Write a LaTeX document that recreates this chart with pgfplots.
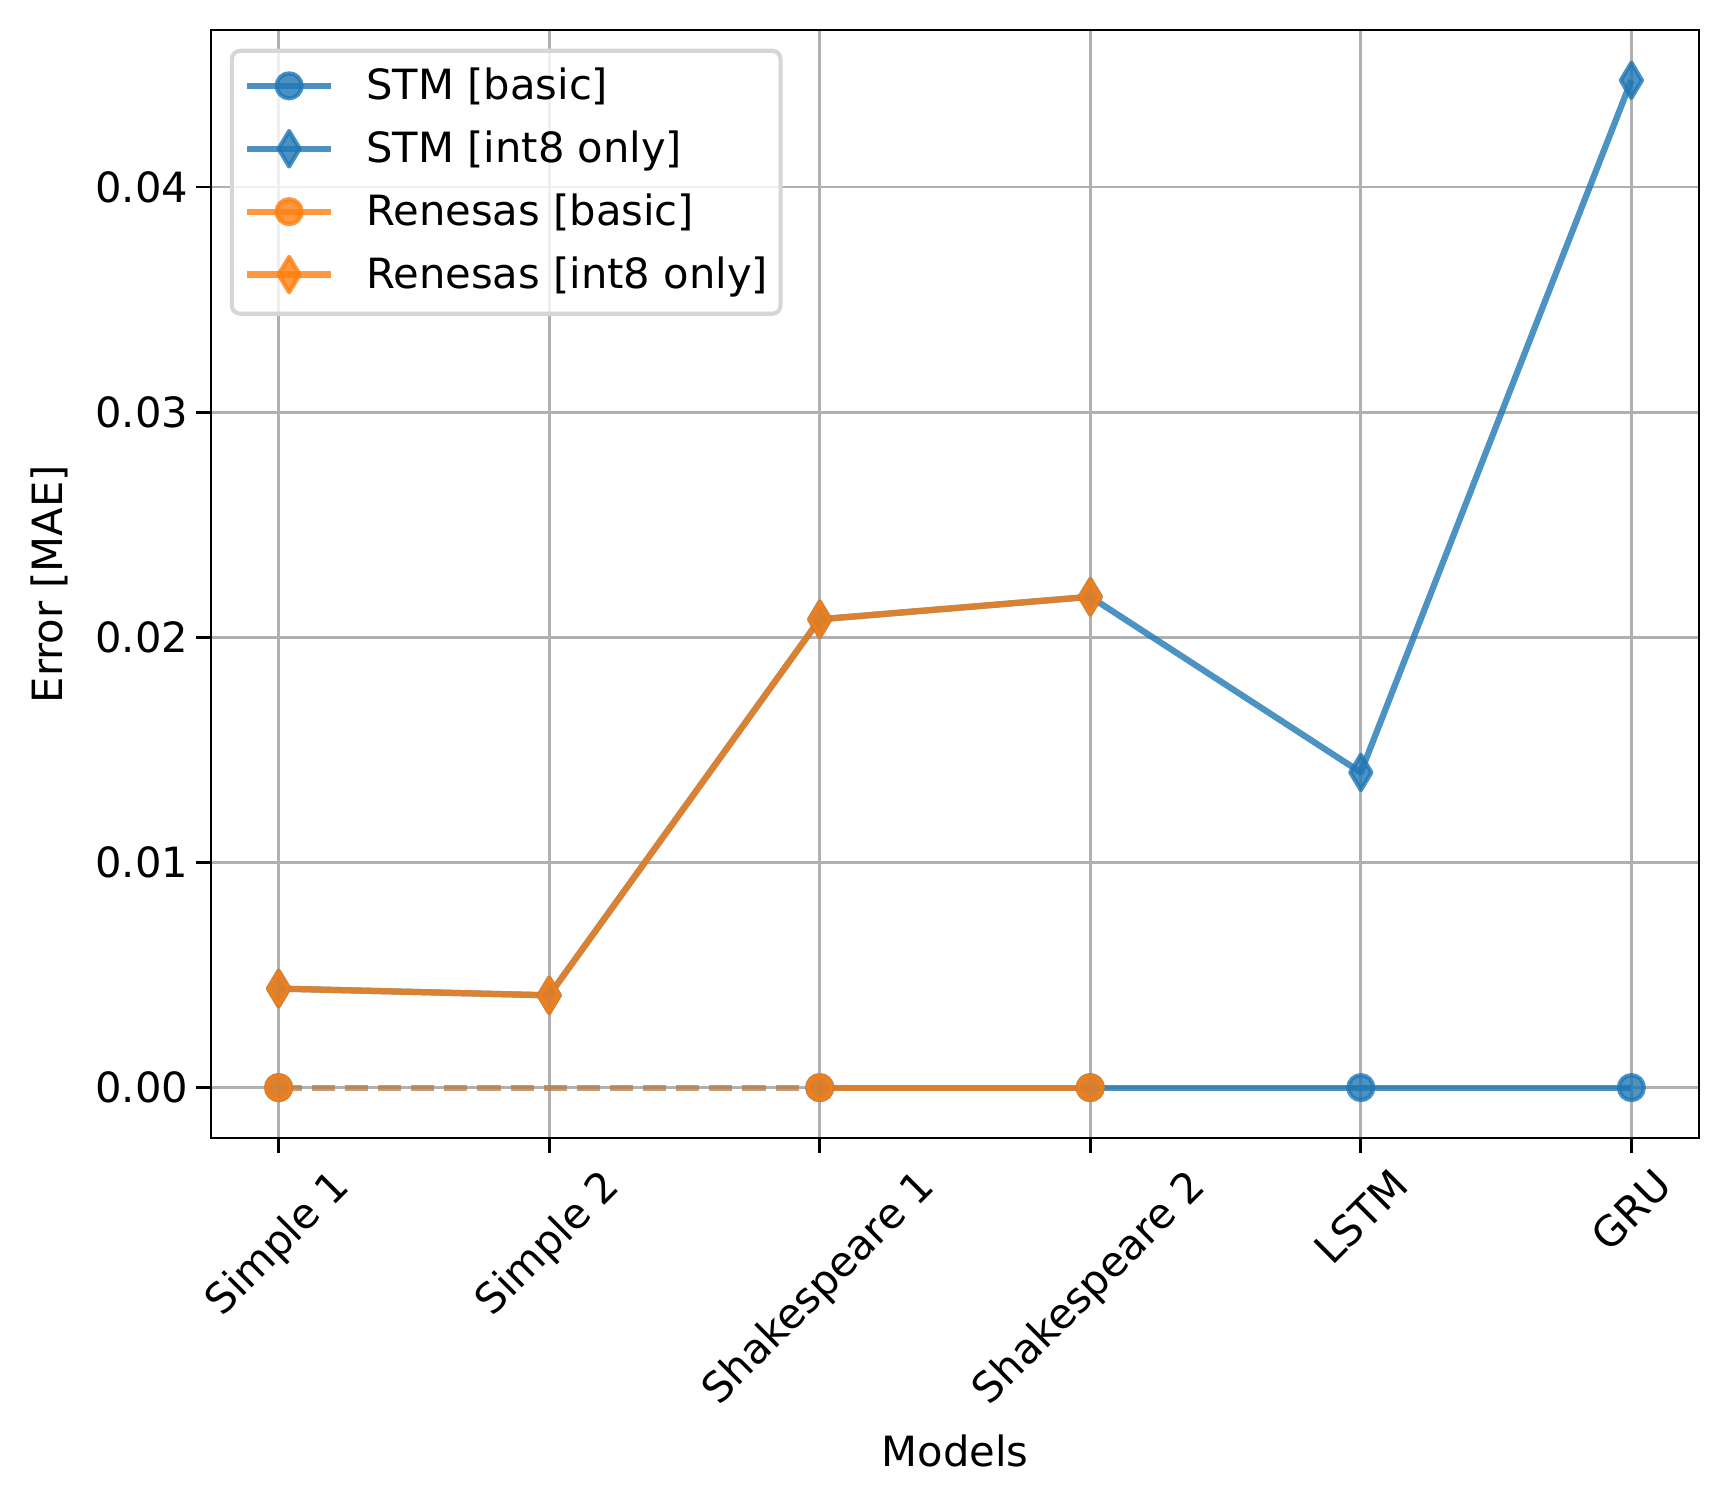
\documentclass[border=0pt]{standalone}
\usepackage{fontspec}
\setmainfont{DejaVu Sans}
\usepackage{graphicx}
\usepackage{pgfplots}
\pgfplotsset{compat=1.18}
\definecolor{tabblue}{HTML}{1F77B4}
\definecolor{taborange}{HTML}{FF7F0E}
\definecolor{gridgray}{HTML}{B0B0B0}
\begin{document}
\begin{tikzpicture}
\path[use as bounding box] (-50.64pt,-87.6pt) rectangle (364.08pt,273.12pt);
\begin{axis}[
  at={(0pt,0pt)}, anchor=south west,
  scale only axis, width=357.12pt, height=265.92pt,
  xmin=-0.25, xmax=5.25, ymin=-0.002237, ymax=0.046974,
  xtick={0,1,2,3,4,5},
  xticklabels={{\rotatebox{45}{Simple 1}},{\rotatebox{45}{Simple 2}},{\rotatebox{45}{Shakespeare 1}},{\rotatebox{45}{Shakespeare 2}},{\rotatebox{45}{LSTM}},{\rotatebox{45}{GRU}}},
  ytick={0,0.01,0.02,0.03,0.04},
  yticklabels={0.00,0.01,0.02,0.03,0.04},
  tick pos=left, tick align=outside, major tick length=3.5pt,
  every tick/.style={black, line width=0.7pt},
  axis line style={line width=0.7pt},
  grid=major, major grid style={gridgray, line width=0.7pt},
  xticklabel style={anchor=north, inner sep=0pt, rotate=0, yshift=-3.1pt},
  yticklabel style={anchor=east, inner sep=0pt, xshift=-1.8pt},
  xlabel={Models}, ylabel={Error [MAE]},
  xlabel style={at={(ticklabel cs:0.5,5.3pt)}, anchor=north, inner sep=0pt},
  ylabel style={at={(ticklabel cs:0.5,6.4pt)}, anchor=south, inner sep=0pt},
  unbounded coords=jump,
  legend cell align=left,
  legend style={at={(0,1)}, anchor=north west, xshift=4.5pt, yshift=-4.5pt,
    draw=black!16, line width=1pt, rounded corners=2pt, fill=white,
    fill opacity=0.8, draw opacity=1, text opacity=1,
    inner xsep=3pt, inner ysep=3.9pt, row sep=5.1pt, column sep=7.8pt,
    nodes={inner sep=0pt, text height=7.9pt, text depth=2.1pt}},
  legend image code/.code={\draw[sharp corners, mark repeat=2, mark phase=2, #1] plot coordinates {(0pt,0.5pt) (10pt,0.5pt) (20pt,0.5pt)};},
]
% dashed connectors across the missing Simple 2 value
\addplot[forget plot, tabblue, opacity=0.5, line width=1.5pt, dash pattern=on 5.55pt off 2.4pt] coordinates {(0,0) (2,0)};
\addplot[forget plot, taborange, opacity=0.5, line width=1.5pt, dash pattern=on 5.55pt off 2.4pt] coordinates {(0,0) (2,0)};

\addplot[tabblue, opacity=0.8, line width=1.5pt, line join=round, mark=*, mark size=3pt, mark options={solid, line width=1pt}]
  coordinates {(0,0) (1,nan) (2,0) (3,0) (4,0) (5,0)};
\addlegendentry{STM [basic]}
\addplot[tabblue, opacity=0.8, line width=1.5pt, line join=round, mark=diamond*, mark size=4.25pt, mark options={solid, line width=1pt, xscale=0.8}]
  coordinates {(0,0.0044) (1,0.0041) (2,0.0208) (3,0.0218) (4,0.0140) (5,0.04474)};
\addlegendentry{STM [int8 only]}
\addplot[taborange, opacity=0.8, line width=1.5pt, line join=round, mark=*, mark size=3pt, mark options={solid, line width=1pt}]
  coordinates {(0,0) (1,nan) (2,0) (3,0)};
\addlegendentry{Renesas [basic]}
\addplot[taborange, opacity=0.8, line width=1.5pt, line join=round, mark=diamond*, mark size=4.25pt, mark options={solid, line width=1pt, xscale=0.8}]
  coordinates {(0,0.0044) (1,0.0041) (2,0.0208) (3,0.0218)};
\addlegendentry{Renesas [int8 only]}
\end{axis}
\end{tikzpicture}
\end{document}
